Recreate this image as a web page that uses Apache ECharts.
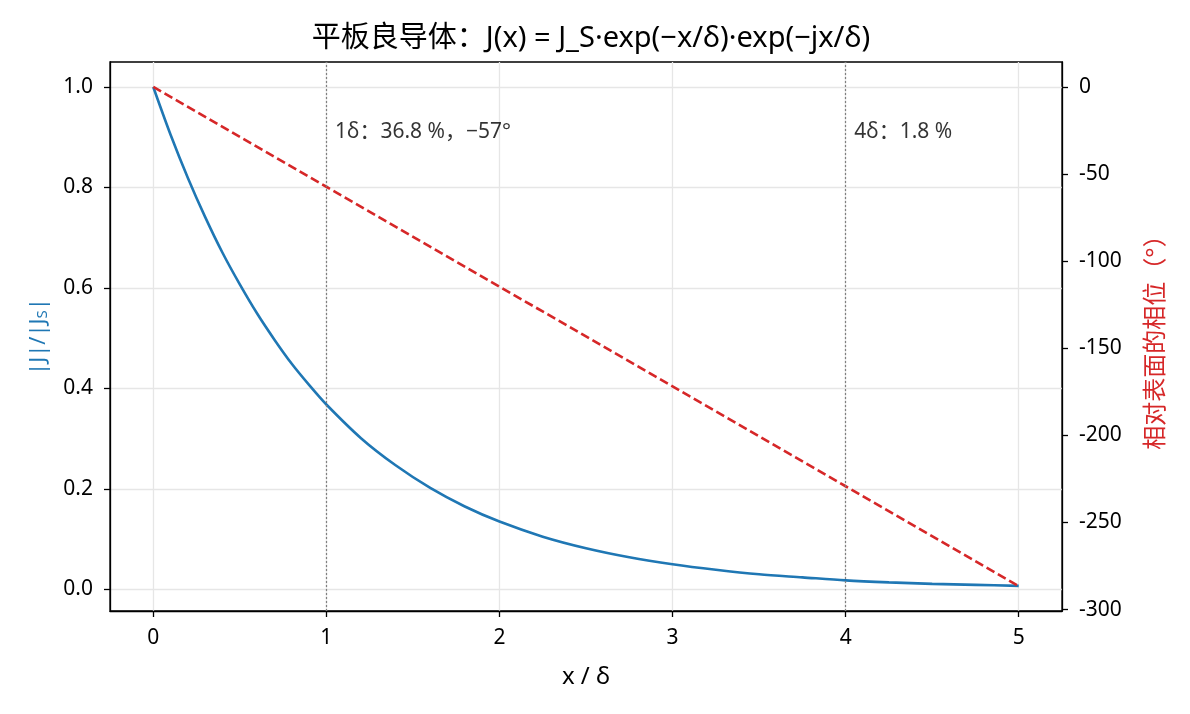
<!DOCTYPE html>
<html>
<head>
<meta charset="utf-8">
<script src="https://cdn.jsdelivr.net/npm/echarts@6/dist/echarts.min.js"></script>
<style>
  html, body { margin: 0; padding: 0; background: #fff; }
  #main { width: 1190px; height: 714px; }
</style>
</head>
<body>
<div id="main"></div>
<script>
// x positions in units of skin depth
const xs = [0, 0.1, 0.2, 0.3, 0.4, 0.5, 0.6, 0.7, 0.8, 0.9, 1, 1.2, 1.4, 1.6, 1.8, 2, 2.25, 2.5, 2.75, 3, 3.25, 3.5, 3.75, 4, 4.25, 4.5, 4.75, 5];
// |J|/|J_S|
const magnitude = [1.000, 0.905, 0.819, 0.741, 0.670, 0.607, 0.549, 0.497, 0.449, 0.407, 0.368, 0.301, 0.247, 0.202, 0.165, 0.135, 0.105, 0.082, 0.064, 0.050, 0.039, 0.030, 0.024, 0.018, 0.014, 0.011, 0.009, 0.007];
// phase relative to surface (deg), red dashed line
const phaseX = [0, 1, 2, 3, 4, 5];
const phase = [0, -57.3, -114.6, -171.9, -229.2, -286.5];

const xTicks = [0, 1, 2, 3, 4, 5];
const leftTicks = [0, 0.2, 0.4, 0.6, 0.8, 1.0];
const rightTicks = [-300, -250, -200, -150, -100, -50, 0];
const markers = [1, 4];
const notes = [
  { x: 1.05, y: 0.91, text: '1δ：36.8 %，−57°' },
  { x: 4.05, y: 0.91, text: '4δ：1.8 %' }
];

const font = '"Noto Sans", "Noto Sans CJK SC", sans-serif';
const chart = echarts.init(document.getElementById('main'));

const gridLine = { show: true, lineStyle: { color: '#e6e6e6', width: 1.3 } };
const axisLine = { show: true, onZero: false, lineStyle: { color: '#000', width: 1.3 } };
const tickStyle = { color: '#000', width: 1.3 };

chart.setOption({
  animation: false,
  textStyle: { fontFamily: font },
  title: {
    text: '平板良导体：J(x) = J_S·exp(−x/δ)·exp(−jx/δ)',
    left: 586, top: 19, textAlign: 'center',
    textStyle: { fontFamily: font, fontSize: 29, fontWeight: 'normal', color: '#000' }
  },
  grid: { left: 110, right: 128, top: 62, bottom: 103, show: true, borderColor: '#000', borderWidth: 1.3, backgroundColor: 'transparent' },
  xAxis: {
    type: 'value', min: -0.25, max: 5.25,
    name: 'x / δ', nameLocation: 'middle', nameGap: 54,
    nameTextStyle: { fontFamily: font, fontSize: 24, color: '#000' },
    axisLine: axisLine,
    axisTick: { show: true, length: 6, customValues: xTicks, lineStyle: tickStyle },
    axisLabel: { customValues: xTicks, fontSize: 21, color: '#000', margin: 17, fontFamily: font },
    splitLine: gridLine
  },
  yAxis: [{
    type: 'value', min: -0.043, max: 1.0497, position: 'left',
    name: '|J|/|J{s|S}|', nameLocation: 'middle', nameGap: 60, nameRotate: 90,
    nameTextStyle: { fontFamily: font, fontSize: 22, color: '#1f77b4',
      rich: { s: { fontFamily: font, fontSize: 15, color: '#1f77b4', padding: [8, 0, 0, 0] } } },
    axisLine: axisLine,
    axisTick: { show: true, length: 6, customValues: leftTicks, lineStyle: tickStyle },
    axisLabel: { customValues: leftTicks, fontSize: 21, color: '#000', margin: 17, fontFamily: font,
      formatter: v => v.toFixed(1) },
    splitLine: gridLine
  }, {
    type: 'value', min: -300.8, max: 14.3, position: 'right',
    name: '相对表面的相位（°）', nameLocation: 'middle', nameGap: 82, nameRotate: 90,
    nameTextStyle: { fontFamily: font, fontSize: 24, color: '#d62728' },
    axisLine: axisLine,
    axisTick: { show: true, length: 6, customValues: rightTicks, lineStyle: tickStyle },
    axisLabel: { customValues: rightTicks, fontSize: 21, color: '#000', margin: 17, fontFamily: font },
    splitLine: { show: false }
  }],
  series: [{
    type: 'line', yAxisIndex: 0, showSymbol: false, smooth: 0.3,
    data: xs.map((x, i) => [x, magnitude[i]]),
    lineStyle: { color: '#1f77b4', width: 2.6 },
    markLine: {
      silent: true, symbol: 'none', label: { show: false },
      lineStyle: { color: '#808080', type: [2, 2], width: 1.2 },
      data: markers.map(m => ({ xAxis: m }))
    }
  }, {
    type: 'line', yAxisIndex: 1, showSymbol: false,
    data: phaseX.map((x, i) => [x, phase[i]]),
    lineStyle: { color: '#d62728', width: 2.6, type: [9, 4] }
  }, {
    type: 'scatter', yAxisIndex: 0, symbolSize: 0, silent: true,
    data: notes.map(n => ({ value: [n.x, n.y],
      label: { show: true, position: 'right', distance: 0, formatter: n.text,
        fontFamily: font, fontSize: 21, color: '#000', textBorderWidth: 0 } }))
  }]
});
</script>
</body>
</html>
